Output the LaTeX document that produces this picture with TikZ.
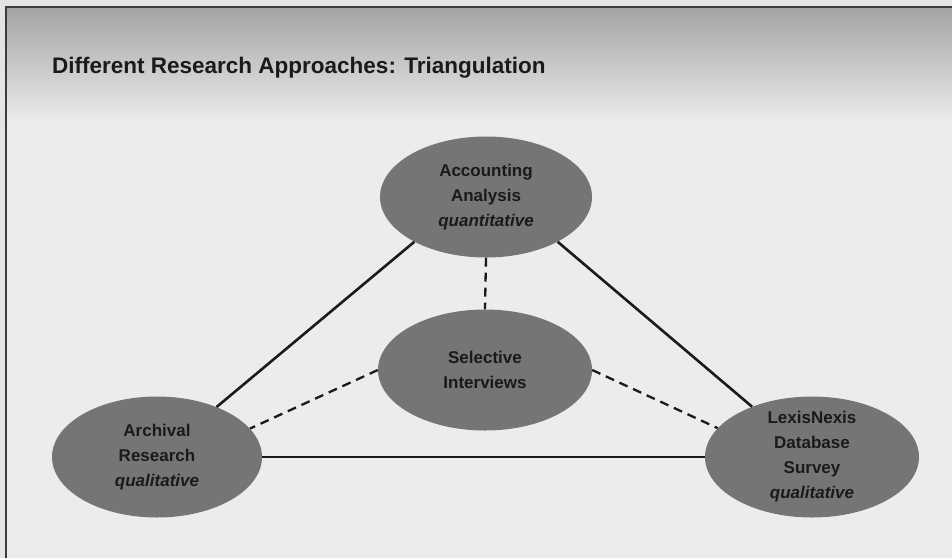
\documentclass[tikz,border=0pt]{standalone}
\usepackage{fontspec}
\setmainfont{Liberation Sans}
\usetikzlibrary{shapes.geometric}
\definecolor{bgc}{RGB}{236,236,236}
\definecolor{hdtop}{RGB}{164,164,164}
\definecolor{outer}{RGB}{228,228,228}
\definecolor{ellc}{RGB}{117,117,117}
\definecolor{ink}{RGB}{26,26,26}
\definecolor{framec}{RGB}{60,60,60}
\tikzset{
  blob/.style={ellipse, fill=ellc, draw=none, minimum width=#1, minimum height=121pt, inner sep=0pt},
  blob/.default=212pt,
  lbl/.style={align=center, text=ink, font=\fontsize{17}{25}\selectfont\bfseries, inner sep=0pt},
  solidlink/.style={draw=ink, line width=2.6pt},
  dashlink/.style={draw=ink, line width=2.3pt, dash pattern=on 9pt off 6pt},
}
\begin{document}
\begin{tikzpicture}[x=1pt,y=-1pt]
\useasboundingbox (0,0) rectangle (952,558);
% backgrounds
\fill[outer] (0,0) rectangle (952,558);
\fill[bgc] (6,7) rectangle (952,558);
\shade[top color=hdtop, bottom color=bgc, shading angle=0] (6,7) rectangle (952,122);
\draw[framec, line width=2pt] (6,558) -- (6,7) -- (952,7);
% title
\node[anchor=base west, inner sep=0pt, text=ink, font=\fontsize{22.5}{27}\selectfont\bfseries] (title) at (52,73) {Different Research Approaches: Triangulation};
% ellipses
\node[blob=212pt] (acc) at (486,197) {};
\node[blob=214pt] (sel) at (485,370) {};
\node[blob=210pt] (arch) at (157,457) {};
\node[blob=214pt] (lex) at (812,457) {};
% labels
\node[lbl] (acct) at (acc) {Accounting\\Analysis\\\textit{quantitative}};
\node[lbl] (selt) at (sel) {Selective\\Interviews};
\node[lbl] (archt) at (arch) {Archival\\Research\\\textit{qualitative}};
\node[lbl] (lext) at (lex) {LexisNexis\\Database\\Survey\\\textit{qualitative}};
% connectors
\draw[solidlink] (acc.212) -- (arch.40);
\draw[solidlink] (acc.328) -- (lex.140);
\draw[solidlink] (arch.east) -- (lex.west);
\draw[dashlink] (acc.south) -- (sel.north);
\draw[dashlink] (sel.west) -- (arch.17);
\draw[dashlink] (sel.east) -- (lex.163);
\end{tikzpicture}
\end{document}
